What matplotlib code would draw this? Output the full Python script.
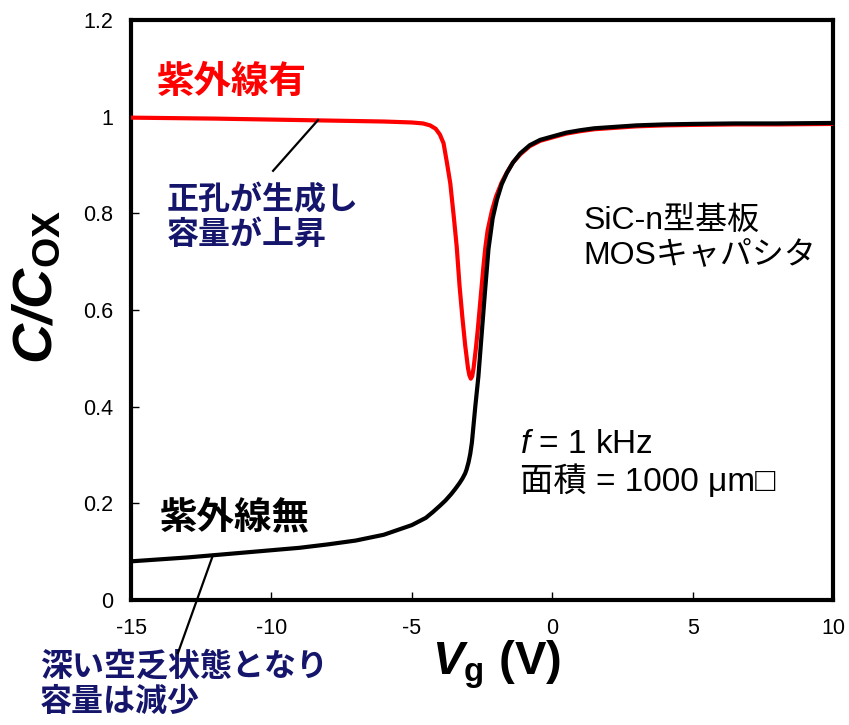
import numpy as np
import matplotlib
matplotlib.use("Agg")
import matplotlib.pyplot as plt

plt.rcParams['font.family'] = ['Liberation Sans', 'Noto Sans CJK JP', 'DejaVu Sans']
plt.rcParams['mathtext.fontset'] = 'custom'
plt.rcParams['mathtext.rm'] = 'Liberation Sans'
plt.rcParams['mathtext.it'] = 'Liberation Sans:italic'
plt.rcParams['mathtext.bf'] = 'Liberation Sans:bold'
plt.rcParams['mathtext.bfit'] = 'Liberation Sans:italic:bold'

# C-V curve without UV light
vg_dark = [-15, -14, -13, -12, -11, -10, -9, -8, -7, -6, -5, -4.5, -4.25, -4, -3.8,
           -3.6, -3.45, -3.3, -3.2, -3.1, -3.05, -2.98, -2.92, -2.86, -2.74, -2.63,
           -2.51, -2.39, -2.27, -2.12, -1.97, -1.8, -1.62, -1.4, -1.14, -0.8, -0.43,
           0, 0.5, 1, 1.5, 2, 3, 4, 5, 6.5, 8, 10]
c_dark = [0.080, 0.084, 0.088, 0.093, 0.098, 0.103, 0.108, 0.115, 0.123, 0.135, 0.155,
          0.170, 0.182, 0.195, 0.206, 0.219, 0.230, 0.242, 0.251, 0.262, 0.270, 0.285,
          0.302, 0.326, 0.400, 0.462, 0.552, 0.641, 0.726, 0.790, 0.828, 0.860, 0.883,
          0.905, 0.924, 0.941, 0.952, 0.959, 0.967, 0.972, 0.976, 0.978, 0.982, 0.984,
          0.985, 0.986, 0.986, 0.987]

# C-V curve with UV light
vg_uv = [-15, -12, -10, -8, -6, -5, -4.6, -4.35, -4.15, -4.0, -3.87, -3.75, -3.63, -3.5,
         -3.4, -3.3, -3.2, -3.1, -3.0, -2.95, -2.9, -2.85, -2.8, -2.72, -2.65, -2.55,
         -2.45, -2.38, -2.3, -2.15, -2.0, -1.8, -1.6, -1.4, -1.14, -0.8, -0.43, 0, 0.5,
         1, 1.5, 2, 3, 4, 5, 6.5, 8, 10]
c_uv = [0.998, 0.996, 0.994, 0.992, 0.990, 0.988, 0.986, 0.982, 0.975, 0.963, 0.945,
        0.905, 0.862, 0.790, 0.730, 0.650, 0.585, 0.527, 0.480, 0.465, 0.458, 0.463,
        0.480, 0.520, 0.560, 0.625, 0.690, 0.730, 0.765, 0.805, 0.835, 0.864, 0.886,
        0.905, 0.922, 0.939, 0.950, 0.957, 0.965, 0.970, 0.974, 0.976, 0.980, 0.982,
        0.983, 0.984, 0.984, 0.985]

x_ticks = [-15, -10, -5, 0, 5, 10]
y_ticks = [0, 0.2, 0.4, 0.6, 0.8, 1.0, 1.2]
y_tick_labels = ['0', '0.2', '0.4', '0.6', '0.8', '1', '1.2']

navy = '#15156b'

fig = plt.figure(figsize=(8.49, 7.25), dpi=100)
ax = fig.add_axes([0.1543, 0.1724, 0.8269, 0.80])

ax.plot(vg_uv, c_uv, color='#ff0000', lw=3, solid_capstyle='butt', zorder=3)
ax.plot(vg_dark, c_dark, color='black', lw=3, solid_capstyle='butt', zorder=4)

ax.set_xlim(-15, 10)
ax.set_ylim(0, 1.2)
ax.set_xticks(x_ticks)
ax.set_xticklabels([str(t) for t in x_ticks])
ax.set_yticks(y_ticks)
ax.set_yticklabels(y_tick_labels)
ax.tick_params(direction='in', length=6, width=1, labelsize=15.5, pad=13, colors='black')
for s in ax.spines.values():
    s.set_linewidth(3)

# axis labels
ax.text(-0.132, 0.54, r'$\mathbfit{C/C}_{\mathbf{OX}}$', transform=ax.transAxes,
        rotation=90, fontsize=40, ha='center', va='center')
ax.text(0.521, -0.112, r'$\mathbfit{V}_{\mathbf{g}}$ (V)', transform=ax.transAxes,
        fontsize=34, fontweight='bold', ha='center', va='center')

# labels for curves
ax.text(-14.07, 1.07, '紫外線有', color='#ff0000', fontsize=27, fontweight='bold',
        ha='left', va='center')
ax.text(-13.97, 0.17, '紫外線無', color='black', fontsize=27, fontweight='bold',
        ha='left', va='center')

ax.text(-13.72, 0.79, '正孔が生成し\n容量が上昇', color=navy, fontsize=23,
        fontweight='bold', ha='left', va='center', linespacing=1.2)
ax.plot([-9.94, -8.34], [0.888, 0.993], color='black', lw=1.6, zorder=5)

ax.text(-18.24, -0.176, '深い空乏状態となり\n容量は減少', color=navy, fontsize=23,
        fontweight='bold', ha='left', va='center', linespacing=1.2)
ax.plot([-13.33, -12.08], [-0.110, 0.093], color='black', lw=1.6, zorder=5,
        clip_on=False)

ax.text(1.10, 0.749, 'SiC-n型基板\nMOSキャパシタ', fontsize=23, ha='left',
        va='center', linespacing=1.2)
ax.text(-1.15, 0.283, '$f$ = 1 kHz\n面積 = 1000 μm□', fontsize=24, ha='left',
        va='center', linespacing=1.15)

fig.savefig('out.png', dpi=100)
